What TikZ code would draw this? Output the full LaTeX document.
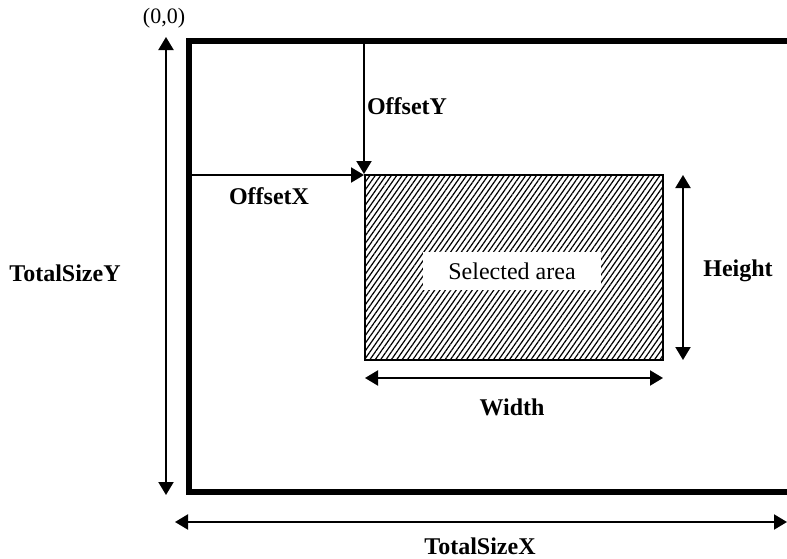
\documentclass[tikz,border=0pt]{standalone}
\usepackage{fontspec}
\setmainfont{Liberation Serif}
\usetikzlibrary{arrows.meta,patterns.meta}
\begin{document}
\begin{tikzpicture}[x=1pt,y=-1pt,
  dim/.style={line width=2pt,-{Triangle[length=13pt,width=15pt]}},
  ddim/.style={line width=2pt,{Triangle[length=13pt,width=15pt]}-{Triangle[length=13pt,width=15pt]}},
  lbl/.style={font=\fontsize{24}{28}\selectfont\bfseries,inner sep=0pt},
  frame/.style={line width=6pt,line join=miter}]
\useasboundingbox (0,0) rectangle (787,558);
% outer frame (open to the right)
\draw[frame] (800,41) -- (189,41) -- (189,492) -- (800,492);
\node[font=\fontsize{22}{26}\selectfont,inner sep=0pt] (origin) at (164,18) {(0,0)};
% selected area
\draw[line width=1.2pt,pattern={Lines[angle=55,distance=4.4pt,line width=1.2pt]}]
  (365,175) rectangle (663,360);
\node[fill=white,minimum width=178pt,minimum height=38pt,inner sep=0pt,
  font=\fontsize{24}{28}\selectfont] (sel) at (512,271) {Selected area};
% coordinates
\coordinate (ty1) at (166,37);
\coordinate (ty2) at (166,495);
\coordinate (tx1) at (175,522);
\coordinate (tx2) at (787,522);
\coordinate (oy1) at (364,44);
\coordinate (oy2) at (364,174);
\coordinate (ox1) at (192,175);
\coordinate (ox2) at (364,175);
\coordinate (h1) at (683,175);
\coordinate (h2) at (683,360);
\coordinate (w1) at (365,378);
\coordinate (w2) at (663,378);
% arrows
\draw[ddim] (ty1) -- (ty2);
\draw[ddim] (tx1) -- (tx2);
\draw[dim] (oy1) -- (oy2);
\draw[dim] (ox1) -- (ox2);
\draw[ddim] (h1) -- (h2);
\draw[ddim] (w1) -- (w2);
% labels
\node[lbl] (ltsy) at (65,273) {TotalSizeY};
\node[lbl] (ltsx) at (480,546) {TotalSizeX};
\node[lbl] (loy) at (407,106) {OffsetY};
\node[lbl] (lox) at (269,196) {OffsetX};
\node[lbl] (lh) at (738,271) {Height};
\node[lbl] (lw) at (512,407) {Width};
\end{tikzpicture}
\end{document}
